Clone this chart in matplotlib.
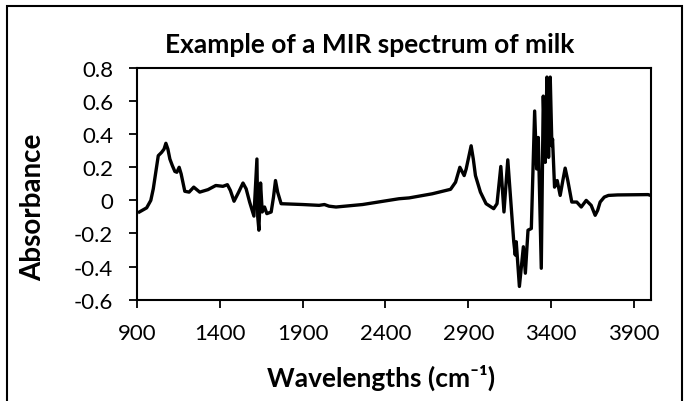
import matplotlib
matplotlib.use("Agg")
import matplotlib.pyplot as plt
from matplotlib.patches import Rectangle

# spectrum (wavenumber in cm-1, absorbance)
wavenumber = [916, 960, 985, 1000, 1015, 1030, 1050, 1065, 1076, 1088, 1100, 1115, 1130, 1142, 1156, 1168, 1190,
              1216, 1244, 1280, 1330, 1377, 1420, 1447, 1465, 1487, 1515, 1541, 1560, 1581,
              1607, 1625, 1630, 1637, 1647, 1657, 1671, 1685, 1711, 1725, 1737, 1750,
              1771, 1901, 2000, 2032, 2060, 2102, 2262, 2482, 2543, 2683, 2793, 2823,
              2849, 2875, 2887, 2917, 2930, 2943, 2973, 3007, 3053, 3073, 3096,
              3115, 3138, 3158, 3174, 3183, 3189, 3208, 3232, 3244, 3260,
              3280, 3300, 3312, 3322, 3340, 3352, 3364, 3374, 3384, 3394,
              3404, 3408, 3420, 3436, 3454, 3470, 3484, 3500, 3524, 3554, 3581, 3611,
              3641, 3665, 3680, 3695, 3720, 3745, 3800, 3984, 4000]
absorbance = [-0.07, -0.045, 0.0, 0.07, 0.17, 0.27, 0.29, 0.31, 0.345, 0.31, 0.25, 0.21, 0.175, 0.17, 0.20, 0.16, 0.055,
              0.05, 0.08, 0.05, 0.065, 0.09, 0.085, 0.095, 0.06, -0.005, 0.05, 0.105, 0.07, -0.01,
              -0.095, 0.25, -0.10, -0.18, 0.105, -0.07, -0.04, -0.08, -0.07, 0.02, 0.12, 0.05,
              -0.02, -0.025, -0.03, -0.025, -0.035, -0.04, -0.025, 0.01, 0.015, 0.04, 0.067, 0.11,
              0.20, 0.15, 0.19, 0.33, 0.25, 0.15, 0.05, -0.02, -0.05, -0.02, 0.205,
              -0.07, 0.245, -0.03, -0.25, -0.33, -0.25, -0.52, -0.28, -0.44, -0.18,
              -0.17, 0.54, 0.19, 0.38, -0.41, 0.63, 0.23, 0.745, 0.26, 0.745,
              0.33, 0.37, 0.08, 0.12, 0.03, 0.12, 0.195, 0.12, -0.01, -0.01, -0.04, 0.0,
              -0.03, -0.09, -0.06, -0.01, 0.02, 0.03, 0.033, 0.035, 0.03]

xticks = [900, 1400, 1900, 2400, 2900, 3400, 3900]
yticks = [-0.6, -0.4, -0.2, 0, 0.2, 0.4, 0.6, 0.8]
ytick_labels = ["-0.6", "-0.4", "-0.2", "0", "0.2", "0.4", "0.6", "0.8"]

plt.rcParams['font.family'] = ['Lato', 'DejaVu Sans']

fig = plt.figure(figsize=(6.88, 4.02), dpi=100)
ax = fig.add_axes([0.1987, 0.252, 0.7471, 0.5764])

ax.plot(wavenumber, absorbance, color='black', lw=2.4, solid_joinstyle='round')

ax.set_xlim(900, 4000)
ax.set_ylim(-0.6, 0.8)
ax.set_xticks(xticks)
ax.set_yticks(yticks)
ax.set_yticklabels(ytick_labels)
ax.tick_params(direction='out', length=6, width=1.3, labelsize=16, pad=11)
for s in ax.spines.values():
    s.set_linewidth(1.5)

fig.text(0.538, 0.888, "Example of a MIR spectrum of milk", ha='center', va='center',
         fontsize=19, fontweight='bold')
fig.text(0.554, 0.06, "Wavelengths (cm\u207b\u00b9)", ha='center', va='center',
         fontsize=19, fontweight='bold')
fig.text(0.048, 0.485, "Absorbance", ha='center', va='center', rotation=90,
         fontsize=20, fontweight='bold')

# chart area border
fig.patches.append(Rectangle((7 / 688, -0.05), 675 / 688, 1.05 - 7 / 402,
                             transform=fig.transFigure, fill=False,
                             edgecolor='black', lw=1.5))

fig.savefig("out.png", dpi=100)
